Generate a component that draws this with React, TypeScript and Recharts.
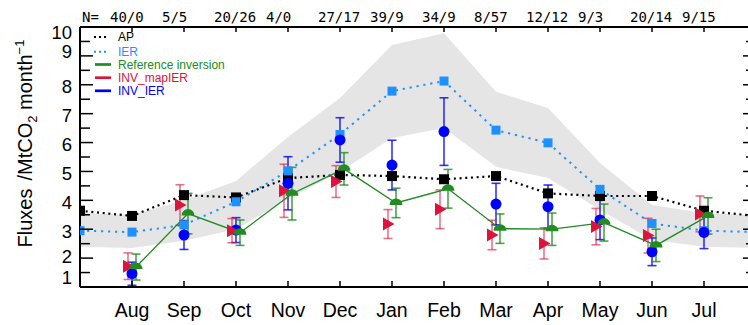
import React from "react";
import { ComposedChart, Area, Line, XAxis, YAxis, ErrorBar, ReferenceLine } from "recharts";

// frame of the plot inside the svg (the right edge runs past the window)
const CHART_W = 770;
const CHART_H = 325;
const PLOT_LEFT = 80;
const PLOT_RIGHT = 756;
const PLOT_TOP = 27;
const PLOT_BOTTOM = 287;

// inversion markers sit a few pixels either side of the month tick
const MARKER_SHIFT = 4 / 52;

const MONTHS = ["Aug", "Sep", "Oct", "Nov", "Dec", "Jan", "Feb", "Mar", "Apr", "May", "Jun", "Jul"];
const N_OBS = ["40/0", "5/5", "20/26", "4/0", "27/17", "39/9", "34/9", "8/57", "12/12", "9/3", "20/14", "9/15"];

// MtCO2 / month
const apFlux = [3.46, 4.18, 4.1, 4.77, 4.88, 4.84, 4.73, 4.84, 4.24, 4.15, 4.15, 3.64];
const ierFlux = [2.9, 3.15, 3.95, 5.02, 6.28, 7.78, 8.13, 6.43, 5.99, 4.38, 3.2, 2.95];
const ierLow = [2.35, 2.6, 3.0, 4.05, 4.99, 6.16, 6.5, 5.16, 4.77, 3.67, 2.63, 2.39];
const ierHigh = [3.49, 4.0, 4.67, 6.19, 7.54, 9.38, 9.78, 7.76, 7.2, 5.29, 3.84, 3.56];

const refFlux = [1.69, 3.54, 2.88, 4.23, 5.09, 3.91, 4.4, 3.02, 3.0, 3.23, 2.44, 3.46];
const refErr = [0.45, 0.7, 0.44, 0.91, 0.56, 0.51, 0.67, 0.51, 0.56, 0.64, 0.56, 0.63];
const mapFlux = [1.72, 3.84, 2.95, 4.33, 4.65, 3.18, 3.69, 2.8, 2.51, 3.09, 2.78, 3.53];
const mapErr = [0.46, 0.7, 0.42, 0.92, 0.55, 0.5, 0.67, 0.51, 0.54, 0.63, 0.6, 0.62];
const invFlux = [1.46, 2.8, 2.97, 4.59, 6.09, 5.22, 6.38, 3.87, 3.78, 3.32, 2.22, 2.89];
const invErr = [0.4, 0.5, 0.43, 0.92, 0.77, 0.86, 1.17, 0.72, 0.75, 0.68, 0.48, 0.56];

const yLabels = [1, 2, 3, 4, 5, 6, 7, 8, 9, 10];
const yMinor = [1.5, 2.5, 3.5, 4.5, 5.5, 6.5, 7.5, 8.5, 9.5];
const yTicks = [...yLabels, ...yMinor].sort((a, b) => a - b);
const monthTicks = MONTHS.map((_, i) => i + 1);

// label nudges (px) so the end digits stay inside the frame
const Y_LABEL_NUDGE: Record<number, number> = { 10: 5, 9: -4, 2: -2, 1: -10 };

// x = 0 and x = 13 wrap around the seasonal cycle (Jul before, Aug after)
const rows = Array.from({ length: 14 }, (_, k) => {
  const i = (k + 11) % 12;
  const inside = k >= 1 && k <= 12;
  return {
    m: k,
    ap: apFlux[i],
    ier: ierFlux[i],
    band: [ierLow[i], ierHigh[i]],
    ref: inside ? refFlux[i] : null,
    refErr: inside ? refErr[i] : null,
    map: inside ? mapFlux[i] : null,
    mapErr: inside ? mapErr[i] : null,
    inv: inside ? invFlux[i] : null,
    invErr: inside ? invErr[i] : null,
  };
});

const SANS = "'Liberation Sans', Arial, sans-serif";
const MONO = "'DejaVu Sans Mono', monospace";

const C_AP = "#000000";
const C_IER = "#1E90FF";
const C_REF = "#228B22";
const C_MAP = "#DC143C";
const C_INV = "#0000FF";

function YTick(props: any) {
  const { y, payload } = props;
  const v = payload.value as number;
  const major = Number.isInteger(v);
  const len = major ? 13 : 10;
  const edge = v === 1 || v === 10;
  return (
    <g>
      {!edge && <line x1={PLOT_LEFT} x2={PLOT_LEFT + len} y1={y} y2={y} stroke="#000" strokeWidth={1.5} />}
      {!edge && <line x1={PLOT_RIGHT - len} x2={PLOT_RIGHT} y1={y} y2={y} stroke="#000" strokeWidth={1.5} />}
      {major && (
        <text x={72} y={y + (Y_LABEL_NUDGE[v] ?? 2) + 6.6} textAnchor="end" fontSize={18.5} fontFamily={SANS} fill="#000">
          {v}
        </text>
      )}
    </g>
  );
}

function MonthTick(props: any) {
  const { x, payload } = props;
  const i = payload.value - 1;
  return (
    <g>
      <line x1={x} x2={x} y1={PLOT_BOTTOM} y2={PLOT_BOTTOM - 6} stroke="#000" strokeWidth={1.5} />
      <line x1={x} x2={x} y1={PLOT_TOP} y2={PLOT_TOP + 5} stroke="#000" strokeWidth={1.5} />
      <text x={x} y={316.5} textAnchor="middle" fontSize={19.5} fontFamily={SANS} fill="#000">
        {MONTHS[i]}
      </text>
      <text x={x - 22} y={21.5} fontSize={14} fontFamily={MONO} fill="#000">
        {N_OBS[i]}
      </text>
    </g>
  );
}

const empty = (p: any) => <g key={`e-${p.index}`} />;

const apSquare = (p: any) =>
  p.cy == null ? empty(p) : <rect key={`ap-${p.index}`} x={p.cx - 5} y={p.cy - 5} width={10} height={10} fill={C_AP} />;

const ierSquare = (p: any) =>
  p.cy == null ? empty(p) : <rect key={`ier-${p.index}`} x={p.cx - 4.5} y={p.cy - 4.5} width={9} height={9} fill={C_IER} />;

const invCircle = (p: any) =>
  p.cy == null ? empty(p) : <circle key={`inv-${p.index}`} cx={p.cx} cy={p.cy} r={5.5} fill={C_INV} />;

const mapTriangle = (p: any) =>
  p.cy == null ? empty(p) : (
    <path
      key={`map-${p.index}`}
      d={`M${p.cx - 5},${p.cy - 6.5} L${p.cx + 6.5},${p.cy} L${p.cx - 5},${p.cy + 6.5} Z`}
      fill={C_MAP}
    />
  );

const refHalfDisc = (p: any) =>
  p.cy == null ? empty(p) : (
    <path
      key={`ref-${p.index}`}
      d={`M${p.cx - 6.5},${p.cy + 2} A6.5,6.5 0 0 1 ${p.cx + 6.5},${p.cy + 2} Z`}
      fill={C_REF}
    />
  );

const legendItems = [
  { name: "AP", color: C_AP, dotted: true },
  { name: "IER", color: C_IER, dotted: true },
  { name: "Reference inversion", color: C_REF, dotted: false },
  { name: "INV_mapIER", color: C_MAP, dotted: false },
  { name: "INV_IER", color: C_INV, dotted: false },
];
const legendRows = [37, 51.8, 64.5, 77.7, 90.8];

export default function App() {
  return (
    <div
      style={{
        position: "fixed",
        left: 0,
        top: 0,
        width: 748,
        height: 325,
        overflow: "hidden",
        background: "#fff",
      }}
    >
      <ComposedChart
        width={CHART_W}
        height={CHART_H}
        data={rows}
        margin={{ top: PLOT_TOP, right: CHART_W - PLOT_RIGHT, bottom: 0, left: 0 }}
      >
        <XAxis
          xAxisId="m"
          type="number"
          dataKey="m"
          domain={[0, 13]}
          allowDataOverflow
          ticks={monthTicks}
          interval={0}
          tick={<MonthTick />}
          tickLine={false}
          axisLine={{ stroke: "#000", strokeWidth: 2 }}
          height={CHART_H - PLOT_BOTTOM}
        />
        <XAxis xAxisId="mapX" type="number" dataKey="m" domain={[MARKER_SHIFT, 13 + MARKER_SHIFT]} allowDataOverflow hide />
        <XAxis xAxisId="refX" type="number" dataKey="m" domain={[-MARKER_SHIFT, 13 - MARKER_SHIFT]} allowDataOverflow hide />
        <YAxis
          yAxisId="flux"
          type="number"
          domain={[1, 10]}
          allowDataOverflow
          ticks={yTicks}
          interval={0}
          tick={<YTick />}
          tickLine={false}
          axisLine={{ stroke: "#000", strokeWidth: 2 }}
          width={PLOT_LEFT}
        />

        <Area
          xAxisId="m"
          yAxisId="flux"
          dataKey="band"
          type="linear"
          stroke="none"
          fill="#e5e5e5"
          fillOpacity={1}
          isAnimationActive={false}
          activeDot={false}
        />
        <Line
          xAxisId="m"
          yAxisId="flux"
          dataKey="ap"
          type="linear"
          stroke={C_AP}
          strokeWidth={2.2}
          strokeDasharray="2 3.7"
          dot={apSquare}
          activeDot={false}
          isAnimationActive={false}
        />
        <Line
          xAxisId="m"
          yAxisId="flux"
          dataKey="ier"
          type="linear"
          stroke={C_IER}
          strokeWidth={2}
          strokeDasharray="2.2 4.8"
          dot={ierSquare}
          activeDot={false}
          isAnimationActive={false}
        />
        <Line
          xAxisId="m"
          yAxisId="flux"
          dataKey="inv"
          stroke="none"
          dot={invCircle}
          activeDot={false}
          isAnimationActive={false}
        >
          <ErrorBar dataKey="invErr" direction="y" width={4.5} stroke={C_INV} strokeOpacity={0.8} strokeWidth={1.6} isAnimationActive={false} />
        </Line>
        <Line
          xAxisId="mapX"
          yAxisId="flux"
          dataKey="map"
          stroke="none"
          dot={mapTriangle}
          activeDot={false}
          isAnimationActive={false}
        >
          <ErrorBar dataKey="mapErr" direction="y" width={4.5} stroke={C_MAP} strokeOpacity={0.6} strokeWidth={1.6} isAnimationActive={false} />
        </Line>
        <Line
          xAxisId="refX"
          yAxisId="flux"
          dataKey="ref"
          type="linear"
          stroke={C_REF}
          strokeWidth={1.3}
          dot={refHalfDisc}
          activeDot={false}
          isAnimationActive={false}
        >
          <ErrorBar dataKey="refErr" direction="y" width={4.5} stroke={C_REF} strokeOpacity={0.8} strokeWidth={1.6} isAnimationActive={false} />
        </Line>
        <ReferenceLine xAxisId="m" yAxisId="flux" y={10} stroke="#000" strokeWidth={2} />
      </ComposedChart>

      <svg
        width={748}
        height={325}
        style={{ position: "absolute", left: 0, top: 0, pointerEvents: "none" }}
      >
        <text x={82} y={21.5} fontSize={14} fontFamily={MONO} fill="#000">
          N=
        </text>
        <text
          transform="translate(32,143.5) rotate(-90)"
          textAnchor="middle"
          fontSize={20}
          fontFamily={SANS}
          fill="#000"
        >
          Fluxes
          <tspan dx={8}>/MtCO</tspan>
          <tspan dy={5} fontSize={13}>2</tspan>
          <tspan dy={-5}> month</tspan>
          <tspan dy={-8} fontSize={13}>−1</tspan>
        </text>
        {legendItems.map((item, i) => {
          const y = legendRows[i];
          return (
            <g key={item.name}>
              {item.dotted ? (
                <line x1={94} x2={108} y1={y} y2={y} stroke={item.color} strokeWidth={2} strokeDasharray="2 3" />
              ) : (
                <line x1={95} x2={111} y1={y} y2={y} stroke={item.color} strokeWidth={2.7} />
              )}
              <text x={118} y={y + 4.3} fontSize={12} fontFamily={SANS} fill={item.color}>
                {item.name}
              </text>
            </g>
          );
        })}
      </svg>
    </div>
  );
}
